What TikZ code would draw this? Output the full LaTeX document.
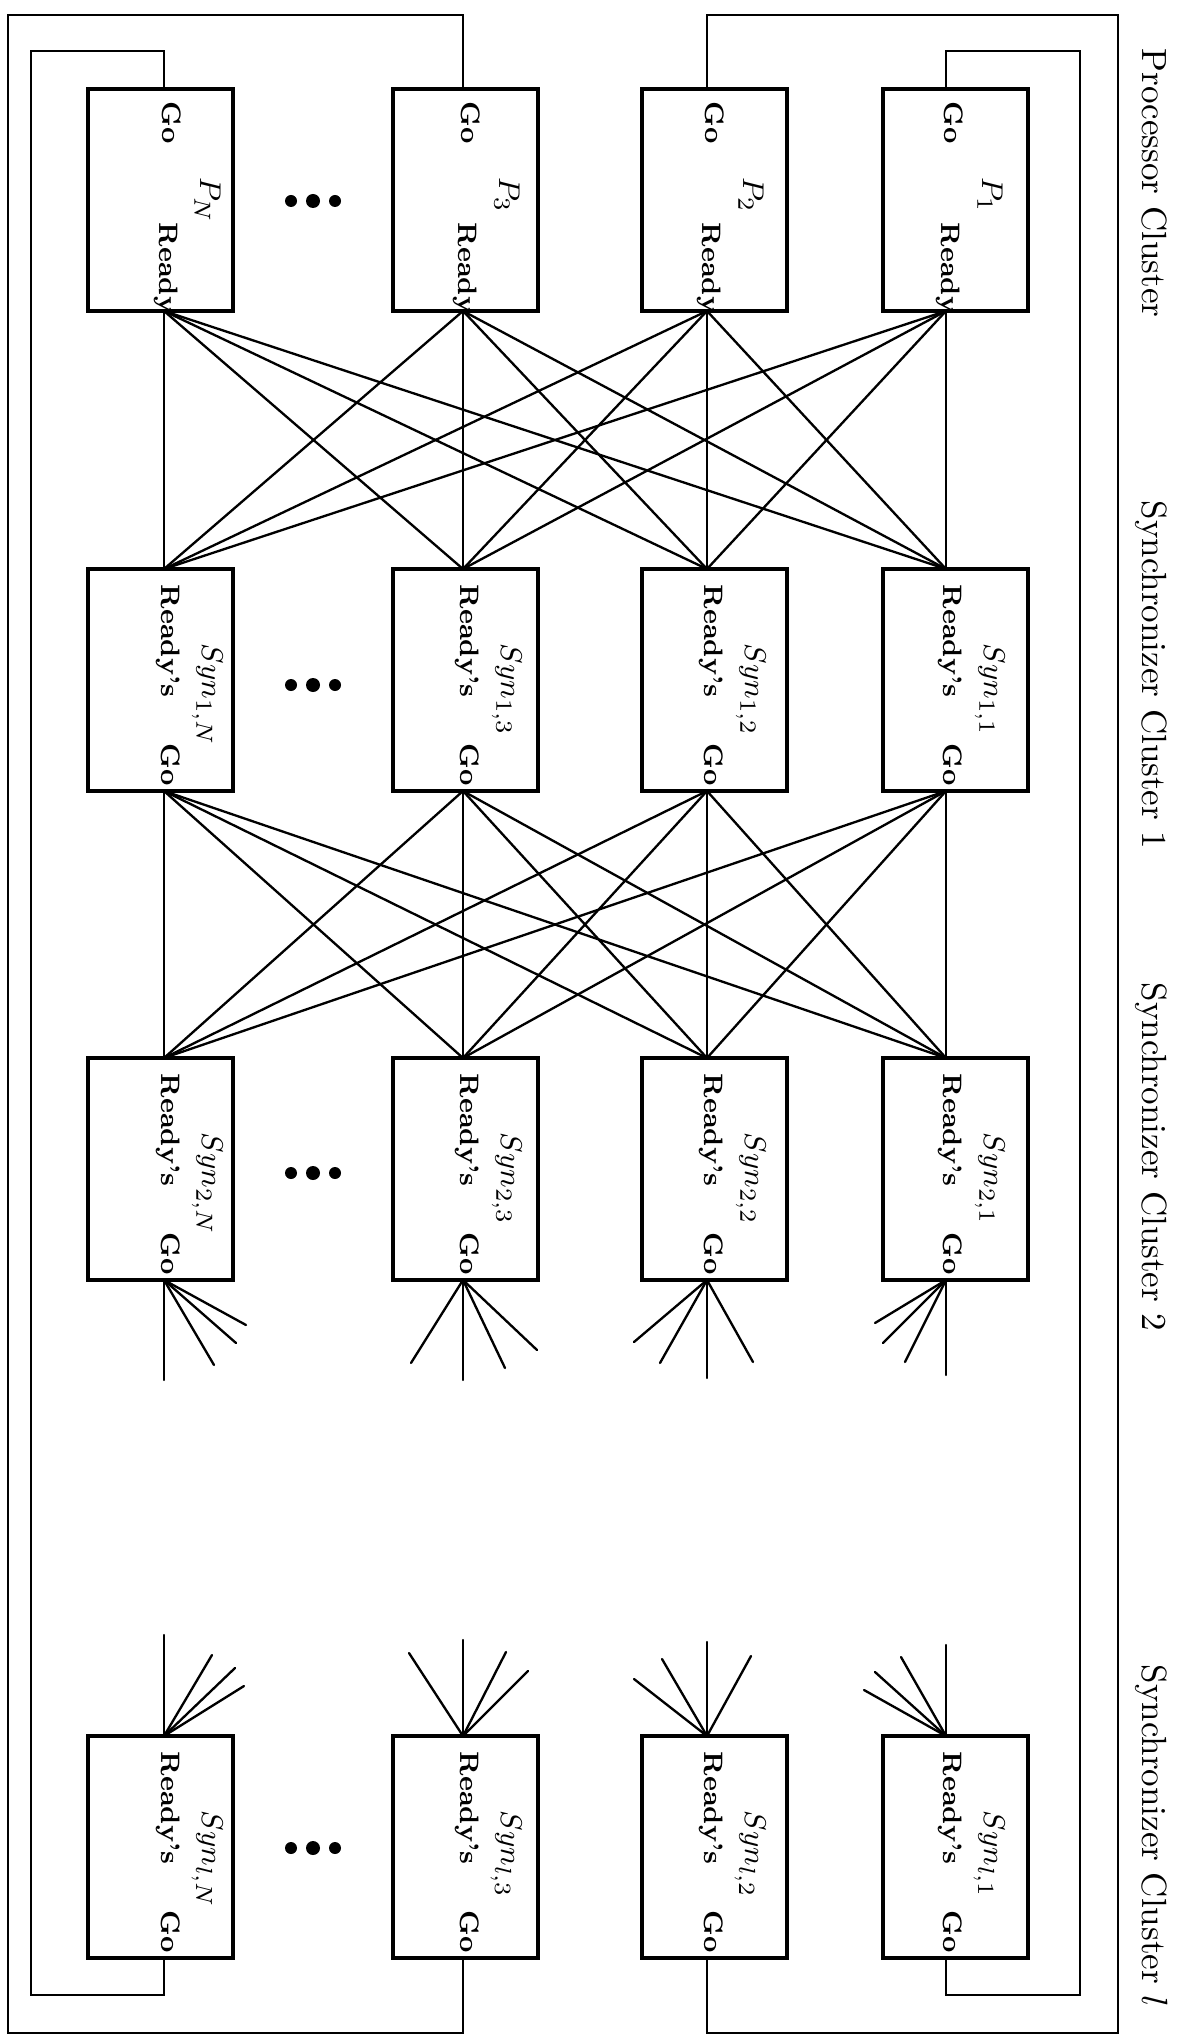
\documentclass[tikz,border=0pt]{standalone}
\usetikzlibrary{calc}
\begin{document}
\begin{tikzpicture}[x=0.3pt,y=-0.3pt,
  box/.style={draw, line width=1pt, minimum width=43.5pt, minimum height=66.6pt, inner sep=0pt},
  lbl/.style={rotate=-90, inner sep=0pt, anchor=base west, font=\fontsize{8}{9}\bfseries\selectfont},
  mlbl/.style={rotate=-90, inner sep=0pt, anchor=base west, font=\fontsize{9.5}{11}\selectfont},
  clbl/.style={rotate=-90, inner sep=0pt, anchor=base, font=\fontsize{10.5}{12}\selectfont},
  wire/.style={line width=0.65pt},
  link/.style={line width=0.7pt, line cap=round},
  fan/.style={line width=0.7pt, line cap=round}]
\useasboundingbox (0,0) rectangle (1176,2038);

% columns: name / attach x / box centre x
\foreach \c/\a/\cx in {1/946/955.5, 2/707/714.5, 3/463/465.5, N/164/160.5}{
  % processor
  \node[box] (P\c) at (\cx,200) {};
  \coordinate (Pgo\c) at (\a,89);
  \coordinate (Pre\c) at (\a,311);
  \node[lbl] at (\a-2,101) {Go};
  \node[lbl] at (\a-5,222) {Ready};
  \node[mlbl] at (\a+36,177) {$P_{\c}$};
  % synchronizer cluster 1
  \node[box] (S1\c) at (\cx,680) {};
  \coordinate (S1re\c) at (\a,569);
  \coordinate (S1go\c) at (\a,791);
  \node[lbl] at (\a-3,584) {Ready's};
  \node[mlbl] at (\a+38,643) {$Syn_{1,\c}$};
  \node[lbl] at (\a-3,743) {Go};
  % synchronizer cluster 2
  \node[box] (S2\c) at (\cx,1169) {};
  \coordinate (S2re\c) at (\a,1058);
  \coordinate (S2go\c) at (\a,1280);
  \node[lbl] at (\a-3,1073) {Ready's};
  \node[mlbl] at (\a+38,1132) {$Syn_{2,\c}$};
  \node[lbl] at (\a-3,1232) {Go};
  % synchronizer cluster l
  \node[box] (Sl\c) at (\cx,1847) {};
  \coordinate (Slre\c) at (\a,1736);
  \coordinate (Slgo\c) at (\a,1958);
  \node[lbl] at (\a-3,1751) {Ready's};
  \node[mlbl] at (\a+38,1810) {$Syn_{l,\c}$};
  \node[lbl] at (\a-3,1910) {Go};
}

% full crossbars
\foreach \i in {1,2,3,N}{
  \foreach \j in {1,2,3,N}{
    \draw[link] (Pre\i) -- (S1re\j);
    \draw[link] (S1go\i) -- (S2re\j);
  }
}

% fan stubs below cluster 2
\draw[fan] (S2go1) -- ++(0,95);
\draw[fan] (S2go1) -- ++(-71,43);
\draw[fan] (S2go1) -- ++(-63,63);
\draw[fan] (S2go1) -- ++(-41,82);
\draw[fan] (S2go2) -- ++(0,98);
\draw[fan] (S2go2) -- ++(-73,62);
\draw[fan] (S2go2) -- ++(-47,83);
\draw[fan] (S2go2) -- ++(46,82);
\draw[fan] (S2go3) -- ++(0,100);
\draw[fan] (S2go3) -- ++(-52,83);
\draw[fan] (S2go3) -- ++(42,88);
\draw[fan] (S2go3) -- ++(74,70);
\draw[fan] (S2goN) -- ++(0,100);
\draw[fan] (S2goN) -- ++(50,85);
\draw[fan] (S2goN) -- ++(72,63);
\draw[fan] (S2goN) -- ++(82,45);

% fan stubs above cluster l
\draw[fan] (Slre1) -- ++(0,-91);
\draw[fan] (Slre1) -- ++(-45,-79);
\draw[fan] (Slre1) -- ++(-71,-64);
\draw[fan] (Slre1) -- ++(-82,-46);
\draw[fan] (Slre2) -- ++(0,-94);
\draw[fan] (Slre2) -- ++(-45,-77);
\draw[fan] (Slre2) -- ++(-73,-57);
\draw[fan] (Slre2) -- ++(44,-80);
\draw[fan] (Slre3) -- ++(0,-96);
\draw[fan] (Slre3) -- ++(-54,-83);
\draw[fan] (Slre3) -- ++(43,-84);
\draw[fan] (Slre3) -- ++(65,-65);
\draw[fan] (SlreN) -- ++(0,-101);
\draw[fan] (SlreN) -- ++(48,-81);
\draw[fan] (SlreN) -- ++(71,-68);
\draw[fan] (SlreN) -- ++(80,-50);

% feedback wires Go(cluster l) -> Go(processors)
\draw[wire] (Pgo3) |- (8,15) -- (8,2033) -| (Slgo3);
\draw[wire] (PgoN) |- (31,51) -- (31,1995) -| (SlgoN);
\draw[wire] (Pgo2) |- (1118,15) -- (1118,2033) -| (Slgo2);
\draw[wire] (Pgo1) |- (1080,51) -- (1080,1995) -| (Slgo1);

% ellipses
\foreach \yy in {201,685,1173,1848}{
  \fill (291,\yy) circle (6);
  \fill (313,\yy) circle (7);
  \fill (335,\yy) circle (6);
}

% cluster titles
\node[clbl] (tP)  at (1142,183)  {Processor Cluster};
\node[clbl] (tS1) at (1142,675)  {Synchronizer Cluster 1};
\node[clbl] (tS2) at (1142,1157) {Synchronizer Cluster 2};
\node[clbl] (tSl) at (1142,1836) {Synchronizer Cluster $l$};
\end{tikzpicture}
\end{document}
